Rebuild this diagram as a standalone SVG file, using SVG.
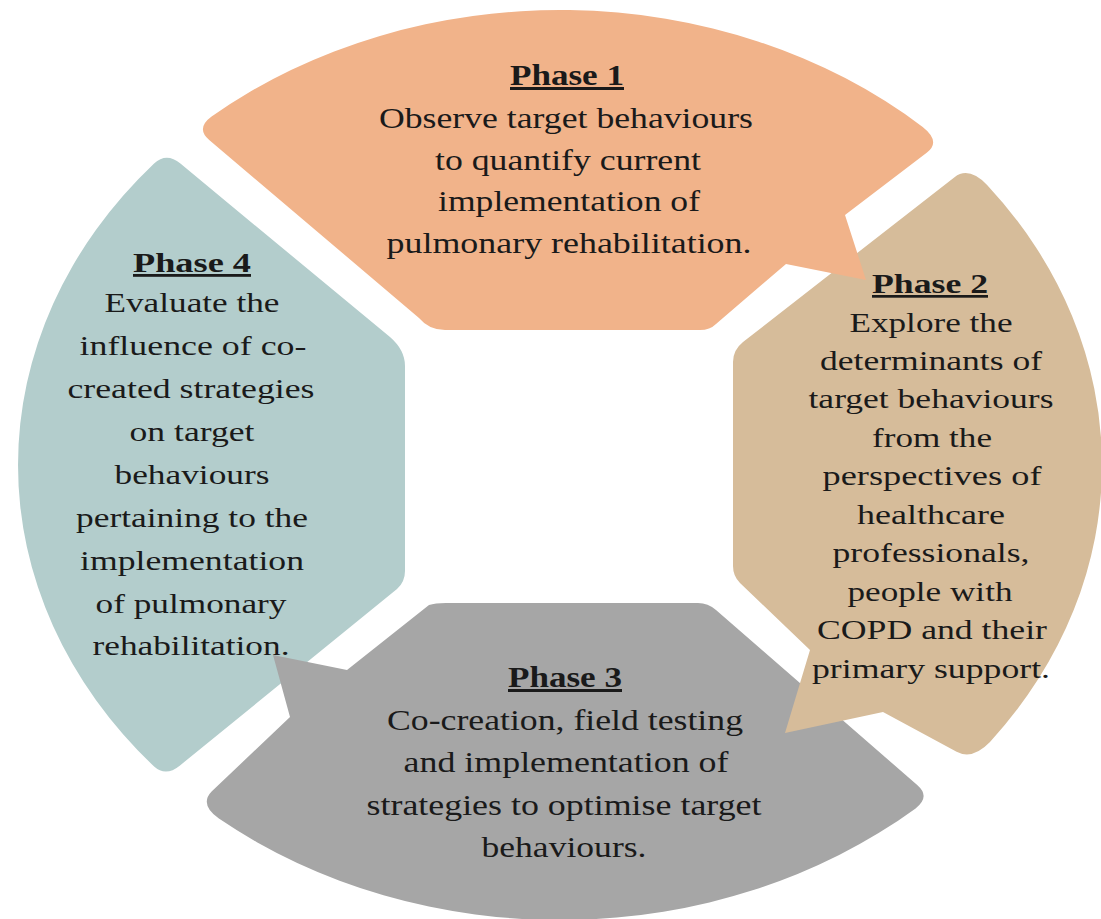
<svg xmlns="http://www.w3.org/2000/svg" width="1101" height="919" viewBox="0 0 1101 919">
  <style>
    .t { font-family: "Liberation Serif", "Times New Roman", serif; fill: #1a1a1a; text-anchor: middle; }
    .b1 { font-size: 30px; }
    .b2 { font-size: 27px; }
    .b4 { font-size: 28px; }
    .h { font-weight: bold; text-decoration: underline; }
  </style>
  <rect x="0" y="0" width="1101" height="919" fill="#ffffff"/>

  <g id="phase4">
    <path fill="#B3CDCC" d="M 180.4,163.6 L 390,337 Q 405,350 405,366 L 405,571 Q 405,582 397,589 L 179.7,765.7 Q 165.7,777.1 154.1,766.5 A 542 455 0 0 1 154.1,163.5 Q 166.5,152.1 180.4,163.6 Z"/>
    <text class="t b4 h" x="192" y="272" textLength="118" lengthAdjust="spacingAndGlyphs">Phase 4</text>
    <text class="t b4" x="192" y="312" textLength="175" lengthAdjust="spacingAndGlyphs">Evaluate the</text>
    <text class="t b4" x="193" y="355" textLength="227" lengthAdjust="spacingAndGlyphs">influence of co-</text>
    <text class="t b4" x="191" y="398" textLength="247" lengthAdjust="spacingAndGlyphs">created strategies</text>
    <text class="t b4" x="192" y="441" textLength="125" lengthAdjust="spacingAndGlyphs">on target</text>
    <text class="t b4" x="192" y="484" textLength="155" lengthAdjust="spacingAndGlyphs">behaviours</text>
    <text class="t b4" x="192" y="527" textLength="232" lengthAdjust="spacingAndGlyphs">pertaining to the</text>
    <text class="t b4" x="192" y="570" textLength="224" lengthAdjust="spacingAndGlyphs">implementation</text>
    <text class="t b4" x="191" y="613" textLength="191" lengthAdjust="spacingAndGlyphs">of pulmonary</text>
    <text class="t b4" x="191" y="655" textLength="197" lengthAdjust="spacingAndGlyphs">rehabilitation.</text>
  </g>

  <g id="phase3">
    <path fill="#A6A6A6" d="M 273,655 L 347,670 L 429,605 Q 435,603 446,603 L 698,603 Q 708,603 716,610 L 917.2,785 Q 930.8,796.8 915.6,808.4 A 542 455 0 0 1 218.9,818.6 Q 199.1,804.5 211.6,791.5 L 290,717 Z"/>
    <text class="t b1 h" x="565" y="687" textLength="114" lengthAdjust="spacingAndGlyphs">Phase 3</text>
    <text class="t b1" x="565" y="730" textLength="356" lengthAdjust="spacingAndGlyphs">Co-creation, field testing</text>
    <text class="t b1" x="566" y="772" textLength="325" lengthAdjust="spacingAndGlyphs">and implementation of</text>
    <text class="t b1" x="564" y="815" textLength="395" lengthAdjust="spacingAndGlyphs">strategies to optimise target</text>
    <text class="t b1" x="564" y="857" textLength="165" lengthAdjust="spacingAndGlyphs">behaviours.</text>
  </g>

  <g id="phase2">
    <path fill="#D6BC9A" d="M 785,733 L 810,650 L 740,583 Q 733,576 733,566 L 733,362 Q 733,350 743,342 L 954.5,177.2 Q 968.7,166.1 987.1,184.9 A 542 455 0 0 1 990,742 Q 972.4,760.2 956.6,751.7 L 883,712 Z"/>
    <text class="t b2 h" x="930" y="293" textLength="116" lengthAdjust="spacingAndGlyphs">Phase 2</text>
    <text class="t b2" x="931" y="332" textLength="163" lengthAdjust="spacingAndGlyphs">Explore the</text>
    <text class="t b2" x="931" y="370" textLength="222" lengthAdjust="spacingAndGlyphs">determinants of</text>
    <text class="t b2" x="931" y="408" textLength="245" lengthAdjust="spacingAndGlyphs">target behaviours</text>
    <text class="t b2" x="932" y="447" textLength="120" lengthAdjust="spacingAndGlyphs">from the</text>
    <text class="t b2" x="932" y="485" textLength="219" lengthAdjust="spacingAndGlyphs">perspectives of</text>
    <text class="t b2" x="931" y="524" textLength="148" lengthAdjust="spacingAndGlyphs">healthcare</text>
    <text class="t b2" x="931" y="562" textLength="197" lengthAdjust="spacingAndGlyphs">professionals,</text>
    <text class="t b2" x="930" y="601" textLength="165" lengthAdjust="spacingAndGlyphs">people with</text>
    <text class="t b2" x="932" y="639" textLength="230" lengthAdjust="spacingAndGlyphs">COPD and their</text>
    <text class="t b2" x="931" y="678" textLength="238" lengthAdjust="spacingAndGlyphs">primary support.</text>
  </g>

  <g id="phase1">
    <path fill="#F1B38A" d="M 866,280 L 845,215 L 927,152.6 Q 941.2,141.5 922.7,126.9 A 542 455 0 0 0 211.6,116.5 Q 195.5,128.3 209.2,139.9 L 419,318 Q 429,330 445,330 L 700,330 Q 710,330 716,324 L 786,264 Z"/>
    <text class="t b1 h" x="567" y="85" textLength="114" lengthAdjust="spacingAndGlyphs">Phase 1</text>
    <text class="t b1" x="566" y="128" textLength="374" lengthAdjust="spacingAndGlyphs">Observe target behaviours</text>
    <text class="t b1" x="568" y="170" textLength="266" lengthAdjust="spacingAndGlyphs">to quantify current</text>
    <text class="t b1" x="569" y="211" textLength="262" lengthAdjust="spacingAndGlyphs">implementation of</text>
    <text class="t b1" x="569" y="253" textLength="365" lengthAdjust="spacingAndGlyphs">pulmonary rehabilitation.</text>
  </g>
</svg>
